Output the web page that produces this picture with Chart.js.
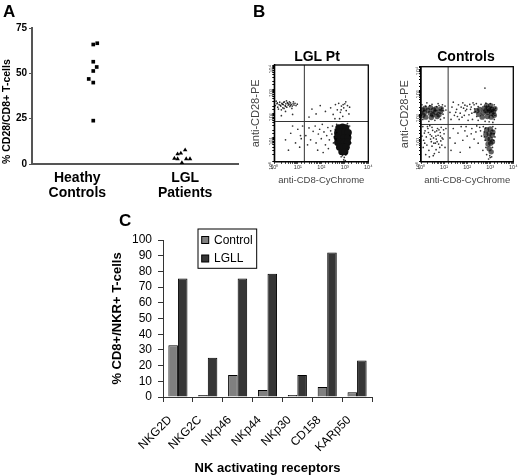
<!DOCTYPE html>
<html><head><meta charset="utf-8">
<script src="https://cdn.jsdelivr.net/npm/chart.js@4.4.0/dist/chart.umd.min.js"></script>
<style>
html,body{margin:0;padding:0;background:#fff;}
#wrap{position:relative;width:520px;height:476px;overflow:hidden;font-family:"Liberation Sans",Arial,sans-serif;}
.pn{position:absolute;}
.big{position:absolute;font:bold 17px/17px "Liberation Sans",Arial,sans-serif;color:#000;}
.ttl{position:absolute;width:100px;text-align:center;font:bold 14px/14px "Liberation Sans",Arial,sans-serif;color:#000;}
</style></head><body>
<div id="wrap">
  <div class="pn" style="left:0;top:0;width:250px;height:205px"><canvas id="cA"></canvas></div>
  <div class="pn" style="left:246px;top:40px;width:130px;height:152px"><canvas id="cB1"></canvas></div>
  <div class="pn" style="left:393px;top:40px;width:127px;height:152px"><canvas id="cB2"></canvas></div>
  <div class="pn" style="left:100px;top:205px;width:290px;height:271px"><canvas id="cC"></canvas></div>
  <div class="big" style="left:3px;top:3px">A</div>
  <div class="big" style="left:253px;top:3px">B</div>
  <div class="big" style="left:119px;top:212px">C</div>
  <div class="ttl" style="left:267px;top:49px">LGL Pt</div>
  <div class="ttl" style="left:416px;top:49px">Controls</div>
</div>
<script>
// ---------- Panel A data ----------
const groupLabels = [['Heathy','Controls'],['LGL','Patients']];
const healthyValues = [66.6, 65.9, 56.4, 53.5, 51.3, 46.9, 44.9, 23.9];
const healthyJitter = [0.185, 0.148, 0.148, 0.18, 0.148, 0.106, 0.148, 0.148];
const lglValues = [7.7, 5.9, 5.5, 3.1, 2.8, 2.8, 2.8, 0.7];
const lglJitter = [0.0, -0.04, -0.07, -0.10, -0.07, 0.01, 0.045, -0.03];
const aTicks = [0, 25, 50, 75];

// ---------- Panel B data (fluorescence, log scale) ----------
const flowTickLabels = ['10\u2070','10\u00b9','10\u00b2','10\u00b3','10\u2074'];
const lglGate = [19, 46];
const ctrlGate = [15, 37];
const lglSparse = [
 [1.1,210],[1.3,250],[1.4,180],[1.6,230],[1.7,290],[1.9,200],[2.1,260],[2.3,170],[2.4,230],[2.7,300],
 [2.9,210],[3.1,250],[3.4,180],[3.6,280],[3.9,220],[4.2,240],[4.6,190],[4.9,270],[5.3,230],[5.8,200],
 [6.3,250],[6.9,220],[7.6,260],[8.4,210],[1.5,150],[2.6,160],[3.3,330],[4.4,300],[5.6,160],[1.2,320],
 [2.0,140],[6.5,300],[9.5,240],[1.8,215],[2.2,240],[3.0,195],[3.8,260],[4.8,215],[1.35,270],[2.5,285],
 [3,120],[6,90],[2,80],
 [250,170],[320,90],[400,230],[480,140],[550,260],[650,110],[720,200],[820,75],[900,170],[1000,250],
 [1150,130],[1300,210],[1500,95],[600,60],[380,60],[1100,300],[1600,180],[700,140],[850,230],
 [40,150],[60,95],[90,210],[150,120],[30,70],
 [22,12],[30,25],[35,8],[45,18],[55,30],[60,6],[75,14],[85,22],[100,9],[110,35],[130,17],[150,5],
 [170,12],[190,26],[220,8],[250,19],[280,14],[300,30],[330,6],[360,11],[390,22],[420,9],[450,16],
 [70,3],[200,3.5],[120,2.4],[14,9],[16,30],[12,4],[26,5],
 [3,8],[5,15],[8,6],[10,22],[4,3],[13,12],[6,30],
 [800,1.8],[950,1.5],[1100,1.9],[900,1.2],[1050,1.1],[1200,2.2],[700,1.6],
 [400,20],[420,8],[1700,12],[1800,6],[380,14],[1600,30],[450,35],[1300,38]
];
const lglDense = [
 [560,25],[800,27],[1100,25],
 [500,16],[720,17],[1000,17],[1400,16],
 [480,10],[680,10],[950,10],[1350,10],
 [500,6.3],[700,6.3],[950,6.3],[1300,6.3],
 [600,4],[850,4],[1150,4],
 [750,2.6],[1000,2.6]
];
const ctrlSparse = [
 [1.1,250],[1.2,60],[1.8,300],[3,260],[4,55],[6,230],[8,180],[9,100],[10,70],[12,150],[1.3,140],[7,60],
 [5.5,280],[2.2,50],[3.2,90],[8.5,250],[1.05,90],[11,220],[1.6,220],[2.4,230],[4.8,210],[9.5,140],
 [18,120],[22,200],[28,90],[35,160],[42,250],[50,110],[60,75],[70,180],[85,140],[100,220],[120,95],
 [140,160],[170,60],[200,250],[230,130],[180,300],[25,320],[65,300],[110,55],[45,60],[260,80],[300,210],[150,200],
 [20,60],[32,120],[55,200],[75,90],[95,160],[130,260],[160,110],[210,170],[38,80],[80,240],
 [250,280],[400,260],[650,290],[1000,280],[1500,250],[1700,180],[1600,90],[1500,60],[300,55],[600,50],
 [900,48],[1300,45],[200,120],[700,220],[1100,200],[590,1260],
 [1.2,30],[1.5,20],[2,25],[2.5,14],[3,28],[3.5,10],[4,18],[5,7],[6,22],[7,12],[8,5],[1.3,8],[1.8,5],
 [2.2,3],[3,4.5],[4.5,3.2],[6,2.5],[9,9],[10,15],[1.1,12],[2.8,7],[5.5,13],[7.5,28],[1.6,2],[3.8,2.2],
 [1.4,16],[2.4,33],[4.2,6],[6.5,4],[11,4],[12,25],
 [1.7,11],[2.1,17],[2.6,9],[3.2,21],[3.6,6],[4.4,12],[5.2,25],[6.8,17],[8.2,10],[1.25,4],[1.9,30],
 [2.9,12],[4.8,20],[5.8,5.5],[7.2,7.5],[9.5,22],[1.45,6],[2.3,1.6],[3.4,1.8],[4.6,9],
 [18,10],[25,25],[30,6],[40,16],[55,30],[65,8],[80,20],[100,12],[130,4],[160,25],[200,9],[240,18],
 [300,6],[350,28],[420,12],[480,3],[20,3],[50,2.5],[90,30],[150,15],[260,32],[380,20],
 [500,30],[550,18],[600,8],[650,4],[1300,20],[1400,8],[1250,4],[1000,1.5],[950,1.8],[850,1.3],
 [1150,1.6],[700,2],[1500,15],[1300,30],[1600,11],[1700,25],[560,11],[620,26]
];
const ctrlDense = [
 [1.5,180],[2.6,190],[4.5,170],[1.4,115],[2.5,110],[4.2,120],[7,130],[1.6,75],[2.8,72],[5,80],[3.5,150],[2.0,145],[6,95],
 [1.15,150],[3.2,95],[7.5,170],[1.2,90],
 [350,160],[550,180],[850,175],[1200,160],[320,100],[500,115],[800,120],[1150,110],[450,75],[750,80],
 [1100,75],[650,140],[950,145],[1400,130],[1600,170],[1500,90],[260,140],[700,230],[1050,230],
 [700,22],[1000,24],[650,14],[900,15],[1200,13],[750,9],[1000,9],[800,5.5],[1050,6],[900,3.5],[1100,2.6],
 [1300,18],[1250,7]
];

// ---------- Panel C data ----------
const receptors = ['NKG2D','NKG2C','NKp46','NKp44','NKp30','CD158','KARp50'];
const controlVals = [33, 1.3, 14, 4.5, 1.3, 6.4, 3];
const lgllVals = [75.5, 25, 75.5, 78.5, 14, 92, 23.3];
const cTicksStep = 10;

Chart.defaults.font.family = '"Liberation Sans", Arial, sans-serif';
Chart.defaults.color = '#000';

// ----- Panel A -----
new Chart(document.getElementById('cA'), {
  type: 'scatter',
  data: { datasets: [
    { label: 'Heathy Controls', data: healthyValues.map((v,i)=>({x: 0 + healthyJitter[i], y: v})),
      pointStyle: 'rect', pointRadius: 2.6, backgroundColor: '#000', borderColor: '#000', borderWidth: 0 },
    { label: 'LGL Patients', data: lglValues.map((v,i)=>({x: 1 + lglJitter[i], y: v})),
      pointStyle: 'triangle', pointRadius: 2.6, backgroundColor: '#000', borderColor: '#000', borderWidth: 0 }
  ]},
  options: {
    animation: false, responsive: true, maintainAspectRatio: false,
    layout: { padding: { left: 0, right: 12, top: 28, bottom: 0 }, autoPadding: false },
    plugins: { legend: { display: false }, tooltip: { enabled: false } },
    scales: {
      x: { type: 'linear', min: -0.42, max: 1.49,
        afterBuildTicks: s => { s.ticks = groupLabels.map((_, i) => ({ value: i })); },
        afterFit: s => { s.height = 41; },
        ticks: { callback: v => groupLabels[v], font: { size: 14, weight: 'bold', lineHeight: 1.05 }, color: '#000', padding: 7, maxRotation: 0, minRotation: 0, autoSkip: false },
        grid: { display: false, drawTicks: false },
        border: { display: true, color: '#555', width: 2 } },
      y: { min: 0, max: 75,
        afterBuildTicks: s => { s.ticks = aTicks.map(v => ({ value: v })); },
        afterFit: s => { s.width = 32; },
        ticks: { font: { size: 10, weight: 'bold' }, color: '#000', padding: 2 },
        grid: { drawOnChartArea: false, tickLength: 3, color: '#555' },
        border: { color: '#555', width: 2 },
        title: { display: true, align: 'start', text: '% CD28/CD8+ T-cells', font: { size: 10.5, weight: 'bold' }, color: '#000', padding: { top: 1, bottom: 0 } } }
    }
  }
});

// ----- Panel B -----
const boxPlugin = { id: 'boxPlugin', afterDraw(chart) {
  const ca = chart.chartArea, ctx = chart.ctx;
  ctx.save(); ctx.strokeStyle = '#000'; ctx.lineWidth = 1.3;
  ctx.strokeRect(ca.left, ca.top, ca.right - ca.left, ca.bottom - ca.top); ctx.restore();
}};
function logTick(v) {
  const e = Math.log10(v); const r = Math.round(e);
  return Math.abs(e - r) < 1e-6 ? flowTickLabels[r] : '';
}
function flowChart(id, sparse, dense, gate, denseR, denseColor, pad, yw) {
  return new Chart(document.getElementById(id), {
    type: 'scatter',
    data: { datasets: [
      { data: sparse.map(p => ({ x: p[0], y: p[1] })), pointRadius: 0.85, backgroundColor: 'rgba(0,0,0,0.8)', borderWidth: 0 },
      { data: dense.map(p => ({ x: p[0], y: p[1] })), pointRadius: denseR, backgroundColor: denseColor, borderWidth: 0 },
      { type: 'line', data: [{ x: gate[0], y: 1 }, { x: gate[0], y: 10000 }], borderColor: '#333', borderWidth: 1, pointRadius: 0, showLine: true },
      { type: 'line', data: [{ x: 1, y: gate[1] }, { x: 10000, y: gate[1] }], borderColor: '#333', borderWidth: 1, pointRadius: 0, showLine: true }
    ]},
    options: {
      animation: false, responsive: true, maintainAspectRatio: false,
      layout: { padding: pad, autoPadding: false },
      plugins: { legend: { display: false }, tooltip: { enabled: false } },
      scales: {
        x: { type: 'logarithmic', min: 1, max: 10000,
          afterFit: s => { s.height = 30.3; },
          ticks: { autoSkip: false, font: { size: 5.5 }, color: '#333', maxRotation: 0, minRotation: 0, padding: 0, callback: logTick },
          grid: { drawOnChartArea: false, tickLength: 2, color: '#000' },
          border: { color: '#000', width: 1.3 },
          title: { display: true, text: 'anti-CD8-CyChrome', font: { size: 9.5 }, color: '#444', padding: { top: 0, bottom: 6 } } },
        y: { type: 'logarithmic', min: 1, max: 10000,
          afterFit: s => { s.width = yw; },
          ticks: { autoSkip: false, font: { size: 5.5 }, color: '#333', minRotation: 90, maxRotation: 90, padding: 1, callback: logTick },
          grid: { drawOnChartArea: false, tickLength: 2, color: '#000' },
          border: { color: '#000', width: 1.3 },
          title: { display: true, text: 'anti-CD28-PE', font: { size: 11 }, color: '#444', padding: { top: 1, bottom: 0 } } }
      }
    },
    plugins: [boxPlugin]
  });
}
flowChart('cB1', lglSparse, lglDense, lglGate, 3.6, '#111', { left: 2, right: 7.7, top: 25, bottom: 0 }, 26.3);
flowChart('cB2', ctrlSparse, ctrlDense, ctrlGate, 2.7, 'rgba(0,0,0,0.62)', { left: 4, right: 6.7, top: 26.7, bottom: 0 }, 24);

// ----- Panel C -----
const boxLegend = { id: 'boxLegend', afterDraw(chart) {
  const ctx = chart.ctx, ca = chart.chartArea, ds = chart.data.datasets;
  const x0 = ca.left + 35, y0 = ca.top - 11, rowH = 18.5;
  ctx.save();
  ctx.font = '12px "Liberation Sans", Arial, sans-serif';
  const tw = Math.max(...ds.map(d => ctx.measureText(d.label).width));
  const W = 16 + tw + 4, H = 39.3;
  ctx.fillStyle = '#fff'; ctx.fillRect(x0, y0, W, H);
  ctx.strokeStyle = '#000'; ctx.lineWidth = 1; ctx.strokeRect(x0, y0, W, H);
  ds.forEach((d, i) => {
    const cy = y0 + 11 + i * rowH;
    ctx.fillStyle = d.backgroundColor; ctx.fillRect(x0 + 3.7, cy - 3.5, 7, 7);
    ctx.strokeStyle = '#000'; ctx.strokeRect(x0 + 3.7, cy - 3.5, 7, 7);
    ctx.fillStyle = '#000'; ctx.textBaseline = 'middle'; ctx.textAlign = 'left';
    ctx.fillText(d.label, x0 + 16, cy + 0.5);
  });
  ctx.restore();
}};
new Chart(document.getElementById('cC'), {
  type: 'bar',
  data: { labels: receptors, datasets: [
    { label: 'Control', data: controlVals, backgroundColor: '#808080', borderColor: '#000', borderWidth: 1, categoryPercentage: 0.64, barPercentage: 1.0 },
    { label: 'LGLL', data: lgllVals, backgroundColor: '#363636', borderColor: '#000', borderWidth: 1, categoryPercentage: 0.64, barPercentage: 1.0 }
  ]},
  options: {
    animation: false, responsive: true, maintainAspectRatio: false,
    layout: { padding: { left: 6, right: 18, top: 35, bottom: 0 }, autoPadding: false },
    plugins: { legend: { display: false }, tooltip: { enabled: false } },
    scales: {
      x: { afterFit: s => { s.height = 79; },
        ticks: { font: { size: 12 }, color: '#000', minRotation: 45, maxRotation: 45, padding: 11, labelOffset: -8, autoSkip: false },
        grid: { drawOnChartArea: false, tickLength: 5, color: '#333' },
        border: { color: '#333', width: 1 },
        title: { display: true, text: 'NK activating receptors', font: { size: 13, weight: 'bold' }, color: '#000', padding: { top: 0, bottom: 0 } } },
      y: { min: 0, max: 100,
        afterFit: s => { s.width = 57; },
        ticks: { stepSize: cTicksStep, autoSkip: false, font: { size: 12 }, color: '#000', padding: 6 },
        grid: { drawOnChartArea: false, tickLength: 5, color: '#333' },
        border: { color: '#333', width: 1 },
        title: { display: true, text: '% CD8+/NKR+ T-cells', font: { size: 13, weight: 'bold' }, color: '#000', padding: { top: 4, bottom: 0 } } }
    }
  },
  plugins: [boxLegend]
});
</script>
</body></html>
